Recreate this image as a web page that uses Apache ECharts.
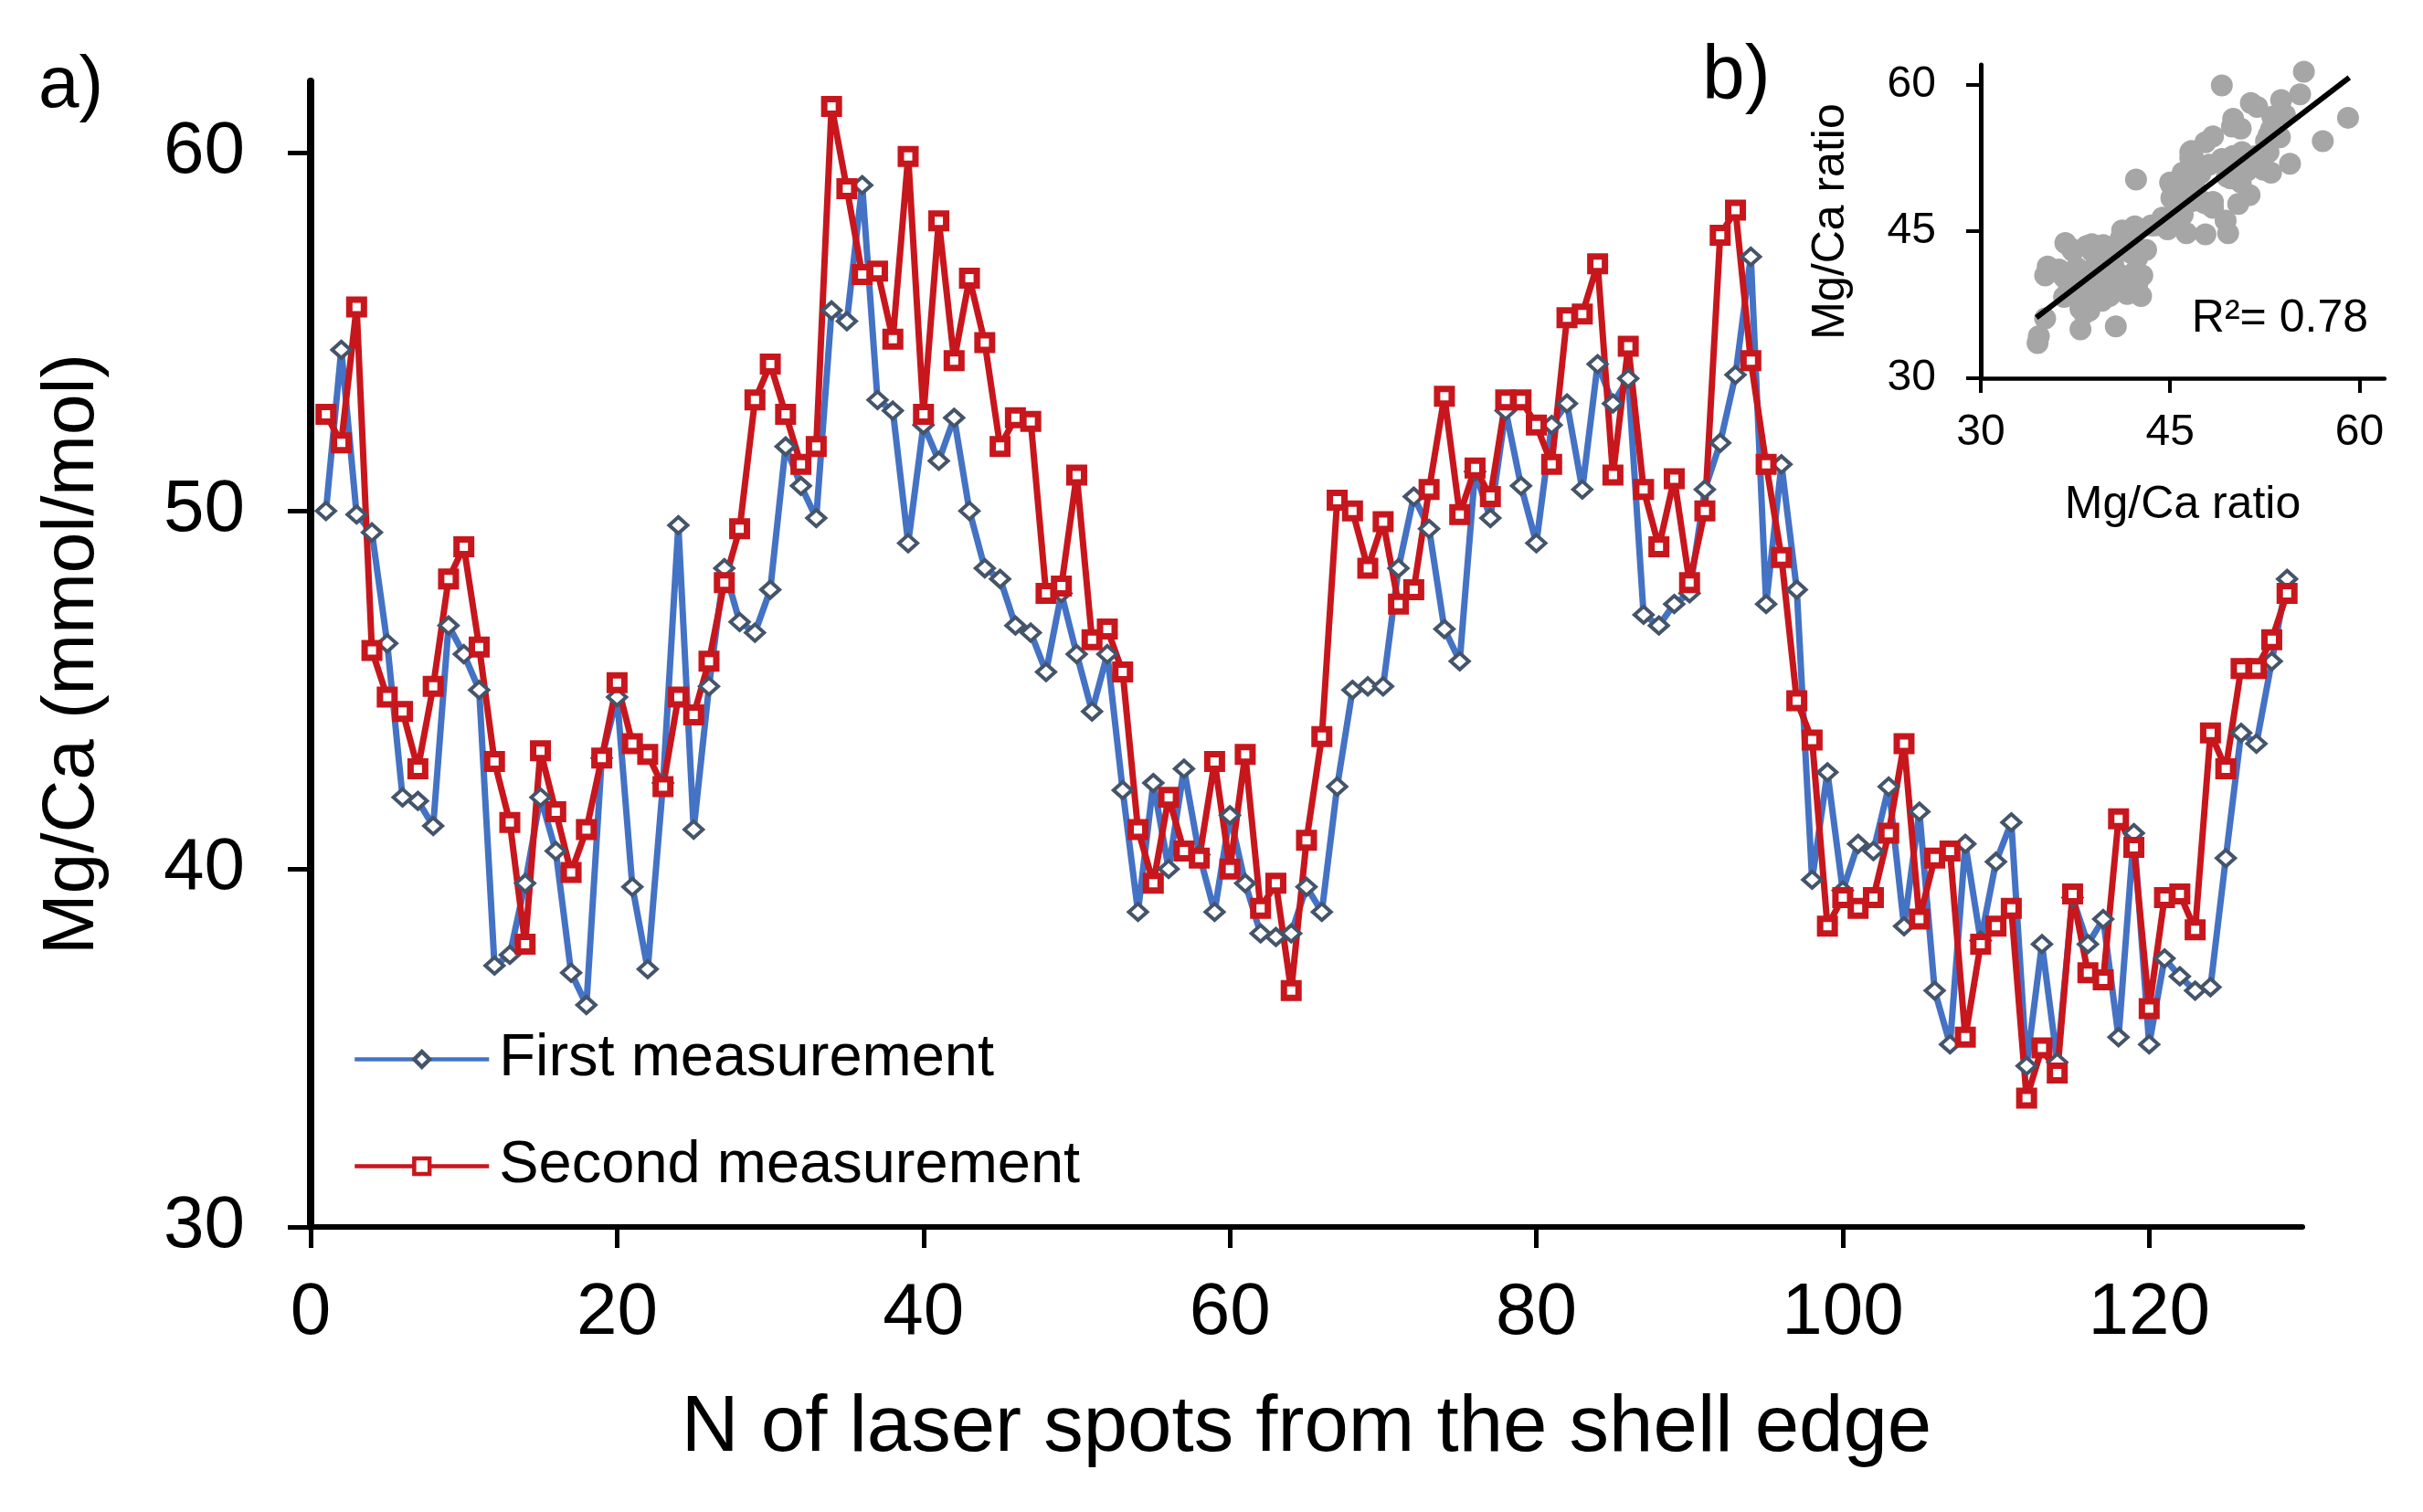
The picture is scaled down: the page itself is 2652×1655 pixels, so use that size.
<!DOCTYPE html>
<html>
<head>
<meta charset="utf-8">
<script src="https://cdn.jsdelivr.net/npm/echarts@6/dist/echarts.min.js"></script>
<style>
  html, body { margin: 0; padding: 0; background: #fff; }
  #chart { width: 2652px; height: 1655px; }
</style>
</head>
<body>
<div id="chart"></div>
<script>
// laser spot number (1..129) from the shell edge
const spots = Array.from({ length: 129 }, (_, i) => i + 1);

const firstMeasurement = [
  50.0, 54.5, 49.9, 49.4, 46.3, 42.0, 41.9, 41.2, 46.8, 46.0,
  45.0, 37.3, 37.6, 39.6, 42.0, 40.5, 37.1, 36.2, 43.1, 44.8,
  39.5, 37.2, 42.4, 49.6, 41.1, 45.1, 48.4, 46.9, 46.6, 47.8,
  51.8, 50.7, 49.8, 55.6, 55.3, 59.1, 53.1, 52.8, 49.1, 52.4,
  51.4, 52.6, 50.0, 48.4, 48.1, 46.8, 46.6, 45.5, 47.7, 46.0,
  44.4, 46.0, 42.2, 38.8, 42.4, 40.0, 42.8, 40.4, 38.8, 41.5,
  39.6, 38.2, 38.1, 38.2, 39.5, 38.8, 42.3, 45.0, 45.1, 45.1,
  48.4, 50.4, 49.5, 46.7, 45.8, 51.1, 49.8, 52.8, 50.7, 49.1,
  52.4, 53.0, 50.6, 54.1, 53.0, 53.7, 47.1, 46.8, 47.4, 47.7,
  50.6, 51.9, 53.8, 57.1, 47.4, 51.3, 47.8, 39.7, 42.7, 39.4,
  40.7, 40.5, 42.3, 38.4, 41.6, 36.6, 35.1, 40.7, 38.0, 40.2,
  41.3, 34.5, 37.9, 34.6, 39.2, 37.9, 38.6, 35.3, 41.0, 35.1,
  37.5, 37.0, 36.6, 36.7, 40.3, 43.8, 43.5, 45.8, 48.1
];

const secondMeasurement = [
  52.7, 51.9, 55.7, 46.1, 44.8, 44.4, 42.8, 45.1, 48.1, 49.0,
  46.2, 43.0, 41.3, 37.9, 43.3, 41.6, 39.9, 41.1, 43.1, 45.2,
  43.5, 43.2, 42.3, 44.8, 44.3, 45.8, 48.0, 49.5, 53.1, 54.1,
  52.7, 51.3, 51.8, 61.3, 59.0, 56.6, 56.7, 54.8, 59.9, 52.7,
  58.1, 54.2, 56.5, 54.7, 51.8, 52.6, 52.5, 47.7, 47.9, 51.0,
  46.4, 46.7, 45.5, 41.1, 39.6, 42.0, 40.5, 40.3, 43.0, 40.0,
  43.2, 38.9, 39.6, 36.6, 40.8, 43.7, 50.3, 50.0, 48.4, 49.7,
  47.4, 47.8, 50.6, 53.2, 49.9, 51.2, 50.4, 53.1, 53.1, 52.4,
  51.3, 55.4, 55.5, 56.9, 51.0, 54.6, 50.6, 49.0, 50.9, 48.0,
  50.0, 57.7, 58.4, 54.2, 51.3, 48.7, 44.7, 43.6, 38.4, 39.2,
  38.9, 39.2, 41.0, 43.5, 38.6, 40.3, 40.5, 35.3, 37.9, 38.4,
  38.9, 33.6, 35.0, 34.3, 39.3, 37.1, 36.9, 41.4, 40.6, 36.1,
  39.2, 39.3, 38.3, 43.8, 42.8, 45.6, 45.6, 46.4, 47.7
];

const mainXTicks = [0, 20, 40, 60, 80, 100, 120];
const mainYTicks = [30, 40, 50, 60];
const insetTicks = [30, 45, 60];

// regression line end points
const fitX = [34.4, 59.2];
const fitY = [36.2, 60.7];
const r2Label = 'R\u00b2= 0.78';

const FONT = '"Liberation Sans", Arial, sans-serif';
const BLUE = '#4472C4';
const BLUE_EDGE = '#44546A';
const RED = '#C8161D';

const chart = echarts.init(document.getElementById('chart'));

const firstData = spots.map((s, i) => [s, firstMeasurement[i]]);
const secondData = spots.map((s, i) => [s, secondMeasurement[i]]);
const scatterData = firstMeasurement.map((v, i) => [v, secondMeasurement[i]]);
const fitData = fitX.map((v, i) => [v, fitY[i]]);

const options = {
  animation: false,
  backgroundColor: '#fff',
  textStyle: { fontFamily: FONT },
  title: [
    { text: 'a)', left: 37, top: 50, textStyle: { fontFamily: FONT, fontSize: 80, fontWeight: 'normal', color: '#000' } },
    { text: 'b)', left: 1858, top: 38, textStyle: { fontFamily: FONT, fontSize: 84, fontWeight: 'normal', color: '#000' } },
    { text: r2Label, right: 55, top: 319, textStyle: { fontFamily: FONT, fontSize: 50, fontWeight: 'normal', color: '#000' } }
  ],
  legend: {
    data: ['First measurement', 'Second measurement'],
    orient: 'vertical',
    left: 381,
    top: 1122,
    itemWidth: 147,
    itemHeight: 21,
    itemGap: 52,
    lineStyle: { width: 4.5 },
    itemStyle: { borderWidth: 4.5 },
    textStyle: { fontFamily: FONT, fontSize: 65, lineHeight: 65, color: '#000', padding: [0, 0, 0, 6] }
  },
  grid: [
    { left: 340, top: 89, width: 2180, height: 1254 },
    { left: 2168, top: 71, width: 442, height: 343 }
  ],
  xAxis: [
    {
      gridIndex: 0, type: 'value', min: 0, max: 130, interval: 20,
      name: 'N of laser spots from the shell edge', nameLocation: 'middle', nameGap: 178,
      nameTextStyle: { fontFamily: FONT, fontSize: 87, color: '#000' },
      axisLine: { lineStyle: { color: '#000', width: 6 } },
      axisTick: { customValues: mainXTicks, length: 23, lineStyle: { color: '#000', width: 5 } },
      axisLabel: { customValues: mainXTicks, margin: 55, fontFamily: FONT, fontSize: 80, color: '#000' },
      splitLine: { show: false }
    },
    {
      gridIndex: 1, type: 'value', min: 30, max: 62, interval: 15,
      name: 'Mg/Ca ratio', nameLocation: 'middle', nameGap: 114,
      nameTextStyle: { fontFamily: FONT, fontSize: 50, color: '#000' },
      axisLine: { lineStyle: { color: '#000', width: 4.5 } },
      axisTick: { customValues: insetTicks, length: 16, lineStyle: { color: '#000', width: 4 } },
      axisLabel: { customValues: insetTicks, margin: 36, fontFamily: FONT, fontSize: 48, color: '#000' },
      splitLine: { show: false }
    }
  ],
  yAxis: [
    {
      gridIndex: 0, type: 'value', min: 30, max: 62, interval: 10,
      name: 'Mg/Ca (mmol/mol)', nameLocation: 'middle', nameGap: 220,
      nameTextStyle: { fontFamily: FONT, fontSize: 80, color: '#000' },
      axisLine: { show: true, lineStyle: { color: '#000', width: 8 } },
      axisTick: { show: true, customValues: mainYTicks, length: 25, lineStyle: { color: '#000', width: 5 } },
      axisLabel: { customValues: mainYTicks, margin: 72, fontFamily: FONT, fontSize: 80, color: '#000' },
      splitLine: { show: false }
    },
    {
      gridIndex: 1, type: 'value', min: 30, max: 62, interval: 15,
      name: 'Mg/Ca ratio', nameLocation: 'middle', nameGap: 139,
      nameTextStyle: { fontFamily: FONT, fontSize: 50, color: '#000' },
      axisLine: { show: true, lineStyle: { color: '#000', width: 5 } },
      axisTick: { show: true, customValues: insetTicks, length: 16, lineStyle: { color: '#000', width: 4 } },
      axisLabel: { customValues: insetTicks, margin: 49, fontFamily: FONT, fontSize: 48, color: '#000' },
      splitLine: { show: false }
    }
  ],
  series: [
    {
      name: 'First measurement', type: 'line', xAxisIndex: 0, yAxisIndex: 0,
      data: firstData,
      symbol: 'diamond', symbolSize: [20, 18], showSymbol: true, showAllSymbol: true,
      lineStyle: { color: BLUE, width: 7 },
      itemStyle: { color: '#fff', borderColor: BLUE_EDGE, borderWidth: 4 }
    },
    {
      name: 'Second measurement', type: 'line', xAxisIndex: 0, yAxisIndex: 0,
      data: secondData,
      symbol: 'rect', symbolSize: 16, showSymbol: true, showAllSymbol: true,
      lineStyle: { color: RED, width: 7 },
      itemStyle: { color: '#fff', borderColor: RED, borderWidth: 7 }
    },
    {
      name: 'scatter', type: 'scatter', xAxisIndex: 1, yAxisIndex: 1,
      data: scatterData, symbolSize: 24,
      itemStyle: { color: '#A6A6A6', opacity: 1 }
    },
    {
      name: 'fit', type: 'line', xAxisIndex: 1, yAxisIndex: 1,
      data: fitData, showSymbol: false, symbol: 'none',
      lineStyle: { color: '#000', width: 6 }
    }
  ]
};

chart.setOption(options);
</script>
</body>
</html>
